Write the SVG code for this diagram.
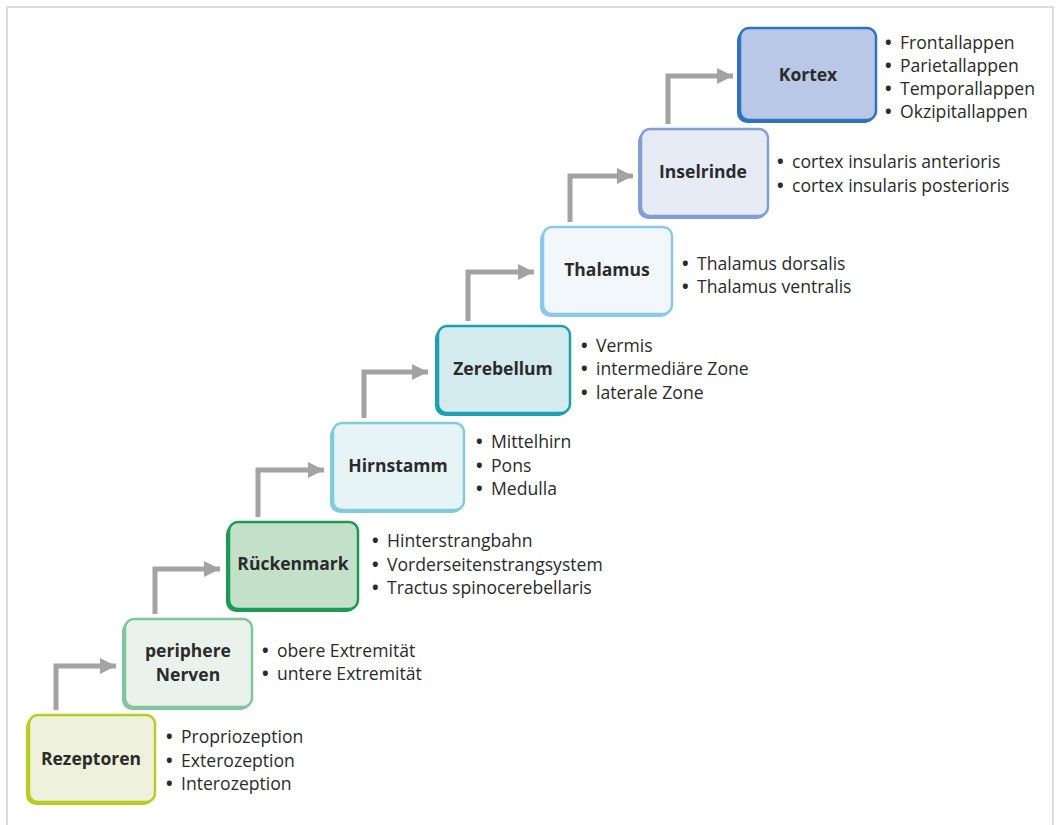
<svg xmlns="http://www.w3.org/2000/svg" width="1056" height="825" viewBox="0 0 1056 825">
<defs>
<marker id="ah" viewBox="0 0 10 10" refX="10" refY="5" markerWidth="3.3" markerHeight="3.3" markerUnits="strokeWidth" orient="auto">
<path d="M0,0 L10,5 L0,10 z" fill="#a3a3a3"/>
</marker>
<style>
.frame{fill:none;stroke:#dcdcdc;stroke-width:2}
.conn{fill:none;stroke:#a3a3a3;stroke-width:5;stroke-linejoin:miter}
.lbl{font-family:"Open Sans","Noto Sans",sans-serif;font-weight:bold;font-size:17.5px;fill:#2b2b2b;text-anchor:middle;dominant-baseline:central}
.lst{font-family:"Open Sans","Noto Sans",sans-serif;font-size:17.6px;fill:#2b2b2b;dominant-baseline:central}
.b{font-weight:bold}
</style>
</defs>
<rect width="1056" height="825" fill="#ffffff"/>
<path class="frame" d="M7,830 L7,7 L1053,7 L1053,830"/>

<g id="connectors">
<path class="conn" marker-end="url(#ah)" d="M56,710 L56,666 L116,666"/>
<path class="conn" marker-end="url(#ah)" d="M155,614 L155,569 L220,569"/>
<path class="conn" marker-end="url(#ah)" d="M258,517 L258,470 L324,470"/>
<path class="conn" marker-end="url(#ah)" d="M364,418 L364,372 L428,372"/>
<path class="conn" marker-end="url(#ah)" d="M468,321 L468,272 L534,272"/>
<path class="conn" marker-end="url(#ah)" d="M570,222 L570,176 L633,176"/>
<path class="conn" marker-end="url(#ah)" d="M668,124 L668,76 L733,76"/>
</g>

<g id="rezeptoren">
<rect x="26" y="717" width="128" height="88" rx="10" fill="#b7cd22"/>
<rect x="29" y="715" width="126" height="87" rx="9" fill="#eef2dc" stroke="#b7cd22" stroke-width="2.5"/>
<text class="lbl" x="91" y="758">Rezeptoren</text>
<text class="lst" y="736"><tspan class="b" x="166">•</tspan><tspan x="181">Propriozeption</tspan></text>
<text class="lst" y="760"><tspan class="b" x="166">•</tspan><tspan x="181">Exterozeption</tspan></text>
<text class="lst" y="783"><tspan class="b" x="166">•</tspan><tspan x="181">Interozeption</tspan></text>
</g>

<g id="periphere">
<rect x="122" y="621" width="129" height="89" rx="10" fill="#80c59d"/>
<rect x="125" y="619" width="127" height="88" rx="9" fill="#e9f3eb" stroke="#80c59d" stroke-width="2.5"/>
<text class="lbl" x="188" y="650">periphere</text>
<text class="lbl" x="188" y="674">Nerven</text>
<text class="lst" y="650"><tspan class="b" x="262">•</tspan><tspan x="277">obere Extremität</tspan></text>
<text class="lst" y="673"><tspan class="b" x="262">•</tspan><tspan x="277">untere Extremität</tspan></text>
</g>

<g id="rueckenmark">
<rect x="226" y="524" width="131" height="88" rx="10" fill="#1c9a55"/>
<rect x="229" y="522" width="129" height="87" rx="9" fill="#c3e1c9" stroke="#1c9a55" stroke-width="2.5"/>
<text class="lbl" x="293" y="563">Rückenmark</text>
<text class="lst" y="540"><tspan class="b" x="372">•</tspan><tspan x="387">Hinterstrangbahn</tspan></text>
<text class="lst" y="564"><tspan class="b" x="372">•</tspan><tspan x="387">Vorderseitenstrangsystem</tspan></text>
<text class="lst" y="587"><tspan class="b" x="372">•</tspan><tspan x="387">Tractus spinocerebellaris</tspan></text>
</g>

<g id="hirnstamm">
<rect x="330" y="425" width="133" height="88" rx="10" fill="#80ccd9"/>
<rect x="333" y="423" width="131" height="87" rx="9" fill="#e7f4f6" stroke="#80ccd9" stroke-width="2.5"/>
<text class="lbl" x="398" y="465">Hirnstamm</text>
<text class="lst" y="441"><tspan class="b" x="476">•</tspan><tspan x="491">Mittelhirn</tspan></text>
<text class="lst" y="465"><tspan class="b" x="476">•</tspan><tspan x="491">Pons</tspan></text>
<text class="lst" y="488"><tspan class="b" x="476">•</tspan><tspan x="491">Medulla</tspan></text>
</g>

<g id="zerebellum">
<rect x="435" y="328" width="134" height="88" rx="10" fill="#1ea0b3"/>
<rect x="438" y="326" width="132" height="87" rx="9" fill="#d3eaee" stroke="#1ea0b3" stroke-width="2.5"/>
<text class="lbl" x="503" y="368">Zerebellum</text>
<text class="lst" y="345"><tspan class="b" x="581">•</tspan><tspan x="596">Vermis</tspan></text>
<text class="lst" y="368"><tspan class="b" x="581">•</tspan><tspan x="596">intermediäre Zone</tspan></text>
<text class="lst" y="392"><tspan class="b" x="581">•</tspan><tspan x="596">laterale Zone</tspan></text>
</g>

<g id="thalamus">
<rect x="540" y="229" width="131" height="88" rx="10" fill="#8bc9ec"/>
<rect x="543" y="227" width="129" height="87" rx="9" fill="#f1f7fb" stroke="#8bc9ec" stroke-width="2.5"/>
<text class="lbl" x="607" y="269">Thalamus</text>
<text class="lst" y="263"><tspan class="b" x="682">•</tspan><tspan x="697">Thalamus dorsalis</tspan></text>
<text class="lst" y="286"><tspan class="b" x="682">•</tspan><tspan x="697">Thalamus ventralis</tspan></text>
</g>

<g id="inselrinde">
<rect x="638" y="131" width="129" height="88" rx="10" fill="#809fd4"/>
<rect x="641" y="129" width="127" height="87" rx="9" fill="#e7ebf6" stroke="#809fd4" stroke-width="2.5"/>
<text class="lbl" x="703" y="171">Inselrinde</text>
<text class="lst" y="161"><tspan class="b" x="777">•</tspan><tspan x="792">cortex insularis anterioris</tspan></text>
<text class="lst" y="185"><tspan class="b" x="777">•</tspan><tspan x="792">cortex insularis posterioris</tspan></text>
</g>

<g id="kortex">
<rect x="737" y="30" width="138" height="93" rx="10" fill="#2f72bf"/>
<rect x="740" y="28" width="136" height="92" rx="9" fill="#bac8e7" stroke="#2f72bf" stroke-width="2.5"/>
<text class="lbl" x="808" y="74">Kortex</text>
<text class="lst" y="42"><tspan class="b" x="885">•</tspan><tspan x="900">Frontallappen</tspan></text>
<text class="lst" y="65"><tspan class="b" x="885">•</tspan><tspan x="900">Parietallappen</tspan></text>
<text class="lst" y="88"><tspan class="b" x="885">•</tspan><tspan x="900">Temporallappen</tspan></text>
<text class="lst" y="111"><tspan class="b" x="885">•</tspan><tspan x="900">Okzipitallappen</tspan></text>
</g>
</svg>
